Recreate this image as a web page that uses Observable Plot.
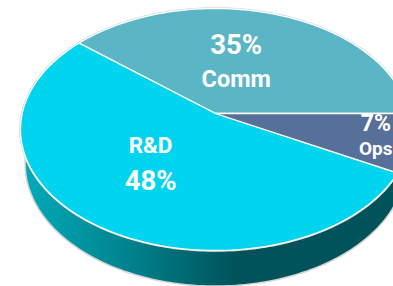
<!DOCTYPE html>
<html><head><meta charset="utf-8">
<script src="https://cdn.jsdelivr.net/npm/d3@7"></script>
<script src="https://cdn.jsdelivr.net/npm/@observablehq/plot@0.6"></script>
<style>
html,body{margin:0;padding:0;background:#fff;overflow:hidden}
#chart{width:393px;height:286px;overflow:hidden}
</style></head><body><div id="chart"></div>
<script>
// ---- data ----
const categories = ["Comm", "R&D", "Ops"];
const shares = [35, 48, 7];
const sliceColors = ["#5ab6c5", "#00d4ee", "#56709a"];

// ---- layout (perspective 3D pie) ----
const W = 393, H = 286;
const cx = 215, cy = 113;           // projected pie centre in pixels
const f = 1152, L = 5.96;            // focal length & camera distance
const elev = 37.95 * Math.PI / 180;  // camera elevation
const thick = 0.23;                  // pie thickness (radius units)
const sE = Math.sin(elev), cE = Math.cos(elev);
function proj(X, Y, Z) {
  const d = L + Y * cE - Z * sE;
  return {u: X / d, v: (Y * sE + Z * cE) / d};
}
const labelShift = [6, -4.6, 1];      // deg
const labelRadius = [0.47, 0.51, 0.83];
const labelLines = [
  {top: "pct", sizes: [27.5, 23.5], off: 17.5},
  {top: "name", sizes: [22.5, 27.5], off: 17.5},
  {top: "pct", sizes: [23, 19], off: 12.5}
];

const total = d3.sum(shares);
let acc = 0;
const slices = categories.map((name, i) => {
  const a0 = acc / total * 2 * Math.PI;
  acc += shares[i];
  const a1 = acc / total * 2 * Math.PI;
  return {name, value: shares[i], color: sliceColors[i], a0, a1, i};
});

function rim(a0, a1, Z, n = 120) {
  const pts = [];
  for (let k = 0; k <= n; k++) {
    const t = a0 + (a1 - a0) * k / n;
    pts.push(proj(Math.cos(t), Math.sin(t), Z));
  }
  return pts;
}

// side ribbon
const sideTop = rim(160 * Math.PI / 180, 380 * Math.PI / 180, 0, 200);
const sideBot = rim(160 * Math.PI / 180, 380 * Math.PI / 180, -thick, 200).reverse();
const sidePts = sideTop.concat(sideBot);
const outlinePts = rim(0, 2 * Math.PI, 0, 360);

const marks = [];
marks.push(Plot.line(sidePts, {x: "u", y: "v", curve: "linear-closed",
  fill: "url(#sideGrad)", stroke: "#d6d6d6", strokeWidth: 1.6}));
marks.push(Plot.line(outlinePts, {x: "u", y: "v", curve: "linear-closed",
  fill: "none", stroke: "#d6d6d6", strokeWidth: 2.6}));
for (const sl of slices) {
  const pts = [proj(0, 0, 0)].concat(rim(sl.a0, sl.a1, 0));
  marks.push(Plot.line(pts, {x: "u", y: "v", curve: "linear-closed",
    fill: sl.color, stroke: "white", strokeWidth: 1.3, strokeLinejoin: "round"}));
}
for (const sl of slices) {
  const lay = labelLines[sl.i];
  const ang = (sl.a0 + sl.a1) / 2 + labelShift[sl.i] * Math.PI / 180;
  const r = labelRadius[sl.i];
  const p = proj(r * Math.cos(ang), r * Math.sin(ang), 0);
  const pct = sl.value + "%";
  const texts = lay.top === "pct" ? [pct, sl.name] : [sl.name, pct];
  texts.forEach((t, j) => {
    marks.push(Plot.text([p], {x: "u", y: "v", text: () => t,
      dy: j === 0 ? -lay.off : lay.off, fontSize: lay.sizes[j],
      fontWeight: "bold", fill: "white", fontFamily: "Roboto",
      textAnchor: "middle", lineAnchor: "middle"}));
  });
}

const svg = Plot.plot({
  width: W, height: H, margin: 0,
  x: {domain: [-cx / f, (W - cx) / f], axis: null},
  y: {domain: [(cy - H) / f, cy / f], axis: null},
  style: {background: "white", overflow: "hidden"},
  marks
});
const ns = "http://www.w3.org/2000/svg";
const defs = document.createElementNS(ns, "defs");
const grad = document.createElementNS(ns, "linearGradient");
grad.setAttribute("id", "sideGrad");
grad.setAttribute("gradientUnits", "userSpaceOnUse");
grad.setAttribute("x1", "30"); grad.setAttribute("x2", "235");
grad.setAttribute("y1", "0"); grad.setAttribute("y2", "0");
[["0", "#00a8b6"], ["0.45", "#008590"], ["1", "#00535b"]].forEach(([o, col]) => {
  const st = document.createElementNS(ns, "stop");
  st.setAttribute("offset", o); st.setAttribute("stop-color", col);
  grad.appendChild(st);
});
defs.appendChild(grad);
svg.insertBefore(defs, svg.firstChild);
document.getElementById("chart").appendChild(svg);
</script></body></html>
